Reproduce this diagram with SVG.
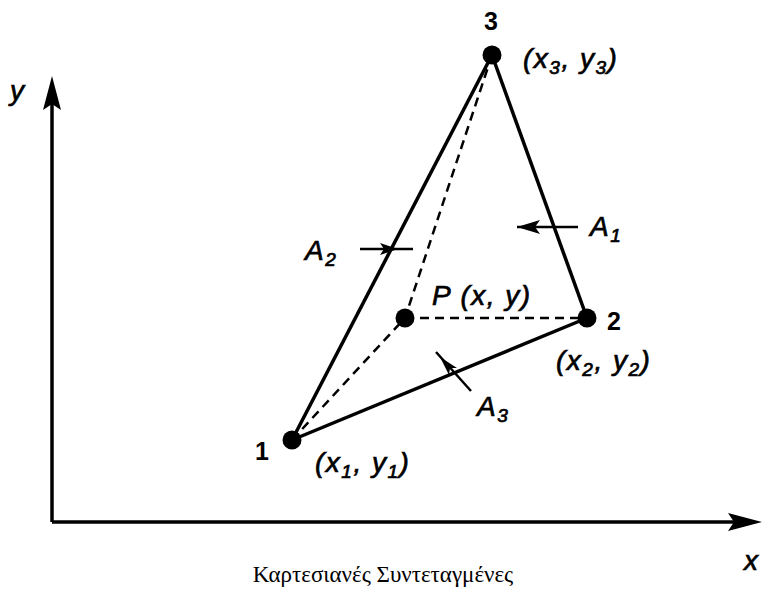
<svg xmlns="http://www.w3.org/2000/svg" width="765" height="592" viewBox="0 0 765 592">
<style>
.ax{stroke:#000;stroke-width:3.5;fill:none}
.ed{stroke:#000;stroke-width:3.5;fill:none}
.ds{stroke:#000;stroke-width:2.5;fill:none;stroke-dasharray:9,6}
.ar{stroke:#000;stroke-width:2.5;fill:none}
.lb{font-family:"Liberation Sans",Arial,sans-serif;font-size:28px;font-style:italic;fill:#000;stroke:#000;stroke-width:0.7;letter-spacing:1.5px}
.nm{font-family:"Liberation Sans",Arial,sans-serif;font-size:25px;font-weight:bold;fill:#000}
.sb{font-size:19px}
.cap{font-family:"Liberation Serif","Times New Roman",serif;font-size:23px;fill:#000}
</style>
<g id="axes">
<path class="ax" d="M52,522 V95"/>
<path d="M52,76 L61,110 L52,104 L43,110 Z" fill="#000"/>
<path class="ax" d="M52,522 H740"/>
<path d="M762,522 L728,531 L734,522 L728,513 Z" fill="#000"/>
<text class="lb" x="10" y="100">y</text>
<text class="lb" x="744" y="570">x</text>
</g>
<g id="connectors">
<line class="ed" x1="292" y1="440" x2="492" y2="55"/>
<line class="ed" x1="492" y1="55" x2="587" y2="318"/>
<line class="ed" x1="292" y1="440" x2="587" y2="318"/>
<line class="ds" x1="492" y1="55" x2="405" y2="318"/>
<line class="ds" x1="405" y1="318" x2="587" y2="318"/>
<line class="ds" x1="292" y1="440" x2="405" y2="318"/>
</g>
<g id="arrowA2">
<line class="ar" x1="360" y1="249" x2="413" y2="249"/>
<path d="M398,249 L380,243 L384,249 L380,255 Z" fill="#000"/>
<text class="lb" x="305" y="260">A<tspan class="sb" dy="6">2</tspan></text>
</g>
<g id="arrowA1">
<line class="ar" x1="517" y1="227" x2="578" y2="227"/>
<path d="M517,227 L540,220 L535,227 L540,234 Z" fill="#000"/>
<text class="lb" x="590" y="236">A<tspan class="sb" dy="6">1</tspan></text>
</g>
<g id="arrowA3">
<line class="ar" x1="436" y1="352" x2="471" y2="391"/>
<path d="M440,357 L457,368 L450,368 L449,375 Z" fill="#000"/>
<text class="lb" x="477" y="416">A<tspan class="sb" dy="6">3</tspan></text>
</g>
<g id="node3">
<circle cx="492" cy="55" r="9.5"/>
<text class="nm" x="484" y="30">3</text>
<text class="lb" x="523" y="68">(x<tspan class="sb" dy="6">3</tspan><tspan dy="-6">, y</tspan><tspan class="sb" dy="6">3</tspan><tspan dy="-6">)</tspan></text>
</g>
<g id="node2">
<circle cx="587" cy="318" r="9.5"/>
<text class="nm" x="607" y="330">2</text>
<text class="lb" x="556" y="370">(x<tspan class="sb" dy="6">2</tspan><tspan dy="-6">, y</tspan><tspan class="sb" dy="6">2</tspan><tspan dy="-6">)</tspan></text>
</g>
<g id="node1">
<circle cx="292" cy="440" r="9.5"/>
<text class="nm" x="255" y="460">1</text>
<text class="lb" x="315" y="472">(x<tspan class="sb" dy="6">1</tspan><tspan dy="-6">, y</tspan><tspan class="sb" dy="6">1</tspan><tspan dy="-6">)</tspan></text>
</g>
<g id="nodeP">
<circle cx="405" cy="318" r="9.5"/>
<text class="lb" x="432" y="305">P (x, y)</text>
</g>
<text class="cap" x="383" y="582" text-anchor="middle">Καρτεσιανές Συντεταγμένες</text>
</svg>
